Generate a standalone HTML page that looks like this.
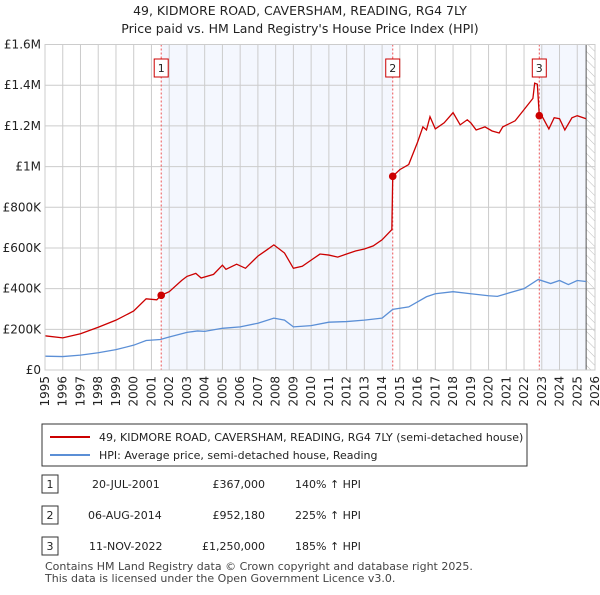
<!DOCTYPE html>
<html><head><meta charset="utf-8"><style>
body{margin:0;background:#fff;font-family:"Liberation Sans","DejaVu Sans",sans-serif;}
svg text{font-family:"DejaVu Sans","Liberation Sans",sans-serif;}
</style></head><body>
<svg id="c" width="600" height="590" xmlns="http://www.w3.org/2000/svg">
<defs><pattern id="hatch" width="6" height="6" patternUnits="userSpaceOnUse" patternTransform="rotate(-45)"><line x1="0" y1="0" x2="0" y2="6" stroke="#bbb" stroke-width="1"/></pattern></defs>
<text x="300" y="15" text-anchor="middle" font-size="12.5" fill="#222">49, KIDMORE ROAD, CAVERSHAM, READING, RG4 7LY</text>
<text x="300" y="33" text-anchor="middle" font-size="12.5" fill="#222">Price paid vs. HM Land Registry's House Price Index (HPI)</text>
<g id="plot"></g>
<g>
<rect x="42" y="424" width="485" height="42" fill="#fff" stroke="#333"/>
<line x1="50" y1="437" x2="90" y2="437" stroke="#cc0000" stroke-width="2"/>
<text x="99" y="441" font-size="11" fill="#222">49, KIDMORE ROAD, CAVERSHAM, READING, RG4 7LY (semi-detached house)</text>
<line x1="50" y1="455" x2="90" y2="455" stroke="#5b8fd6" stroke-width="2"/>
<text x="99" y="459" font-size="11" fill="#222">HPI: Average price, semi-detached house, Reading</text>
</g>
<g font-size="11" fill="#222">
<rect x="42" y="475" width="16" height="18" fill="#fff" stroke="#333"/><text x="50" y="488" text-anchor="middle">1</text>
<text x="92" y="488">20-JUL-2001</text><text x="265" y="488" text-anchor="end">£367,000</text><text x="295" y="488">140% ↑ HPI</text>
<rect x="42" y="506" width="16" height="18" fill="#fff" stroke="#333"/><text x="50" y="519" text-anchor="middle">2</text>
<text x="88" y="519">06-AUG-2014</text><text x="265" y="519" text-anchor="end">£952,180</text><text x="295" y="519">225% ↑ HPI</text>
<rect x="42" y="537" width="16" height="18" fill="#fff" stroke="#333"/><text x="50" y="550" text-anchor="middle">3</text>
<text x="89" y="550">11-NOV-2022</text><text x="265" y="550" text-anchor="end">£1,250,000</text><text x="295" y="550">185% ↑ HPI</text>
</g>
<text x="45" y="570" font-size="11" fill="#444">Contains HM Land Registry data © Crown copyright and database right 2025.</text>
<text x="45" y="582" font-size="11" fill="#444">This data is licensed under the Open Government Licence v3.0.</text>
</svg>
<script>
const yTicks=[0,200,400,600,800,1000,1200,1400,1600];
const yTickLabels=["£0","£200K","£400K","£600K","£800K","£1M","£1.2M","£1.4M","£1.6M"];
const years=[1995,1996,1997,1998,1999,2000,2001,2002,2003,2004,2005,2006,2007,2008,2009,2010,2011,2012,2013,2014,2015,2016,2017,2018,2019,2020,2021,2022,2023,2024,2025,2026];
const hpiX=[1995,1996,1997,1998,1999,2000,2000.7,2001.5,2002,2003,2003.6,2004,2005,2006,2007,2007.9,2008.5,2009,2010,2011,2012,2013,2014,2014.6,2015.5,2016.5,2017,2018,2019,2020,2020.5,2021,2022,2022.8,2023.5,2024,2024.5,2025,2025.5];
const hpiY=[68,66,73,85,100,122,145,150,162,185,192,190,205,212,230,255,245,212,218,235,238,245,255,298,310,360,375,385,375,365,362,375,400,445,425,440,420,440,435];
const ppX=[1995,1996,1997,1998,1999,2000,2000.7,2001.3,2001.55,2002,2002.7,2003,2003.5,2003.8,2004.5,2005,2005.2,2005.8,2006.3,2007,2007.5,2007.9,2008.5,2009,2009.5,2010,2010.5,2011,2011.5,2012,2012.5,2013,2013.5,2014,2014.55,2014.6,2015,2015.5,2016,2016.3,2016.5,2016.7,2017,2017.5,2018,2018.4,2018.8,2019,2019.3,2019.8,2020.2,2020.6,2020.8,2021.5,2022,2022.5,2022.6,2022.75,2022.86,2023,2023.4,2023.7,2024,2024.3,2024.7,2025,2025.5];
const ppY=[168,158,178,210,245,290,350,345,367,385,440,460,475,452,470,515,495,520,500,560,590,615,575,500,510,540,570,565,555,570,585,595,610,640,690,952,985,1010,1120,1195,1180,1245,1185,1215,1265,1205,1230,1215,1180,1195,1175,1165,1195,1225,1280,1335,1410,1405,1250,1250,1185,1240,1235,1180,1240,1250,1235];
const saleX=[2001.55,2014.6,2022.86];
const saleY=[367,952,1250];
const saleLabels=["1","2","3"];
const X0=45,X1=595,Y0=370,Y1=44.5;
const xs=v=>X0+(v-1995)/(2026-1995)*(X1-X0);
const ys=v=>Y0-(v/1600)*(Y0-Y1);
const g=document.getElementById('plot');const NS="http://www.w3.org/2000/svg";
function mk(t,a){const e=document.createElementNS(NS,t);for(const k in a)e.setAttribute(k,a[k]);g.appendChild(e);return e;}
let r=mk('rect',{x:xs(saleX[0]),y:Y1,width:xs(saleX[1])-xs(saleX[0]),height:Y0-Y1,fill:'#f4f7fe'});


r=mk('rect',{x:xs(saleX[2]),y:Y1,width:xs(2025.5)-xs(saleX[2]),height:Y0-Y1,fill:'#f4f7fe'});


r=mk('rect',{x:xs(2025.5),y:Y1,width:X1-xs(2025.5),height:Y0-Y1,fill:'url(#hatch)'});


yTicks.forEach((v,i)=>{const l=mk('line',{x1:X0,x2:X1,y1:ys(v),y2:ys(v),stroke:'#ccc'});


const t=mk('text',{x:X0-4,y:ys(v)+4,'text-anchor':'end','font-size':'12',fill:'#222'});t.textContent=yTickLabels[i];

});
years.forEach(y=>{const l=mk('line',{x1:xs(y),x2:xs(y),y1:Y1,y2:Y0,stroke:'#ccc'});


const t=mk('text',{x:0,y:0,'text-anchor':'end','font-size':'12',fill:'#222',transform:`translate(${xs(y)+4},${Y0+6}) rotate(-90)`});t.textContent=y;

});
const b=mk('line',{x1:xs(2025.5),x2:xs(2025.5),y1:Y1,y2:Y0,stroke:'#555'});


saleX.forEach((x,i)=>{const l=mk('line',{x1:xs(x),x2:xs(x),y1:Y1,y2:Y0,stroke:'#e55','stroke-dasharray':'2,2'});


const bx=mk('rect',{x:xs(x)-7,y:59,width:14,height:18,fill:'#fff',stroke:'#cc0000'});


const t=mk('text',{x:xs(x),y:72,'text-anchor':'middle','font-size':'11',fill:'#222'});t.textContent=saleLabels[i];

});
const hp=mk('polyline',{points:hpiX.map((x,i)=>xs(x)+','+ys(hpiY[i])).join(' '),fill:'none',stroke:'#5b8fd6','stroke-width':1.3});


const pp=mk('polyline',{points:ppX.map((x,i)=>xs(x)+','+ys(ppY[i])).join(' '),fill:'none',stroke:'#cc0000','stroke-width':1.3});


saleX.forEach((x,i)=>{const c=mk('circle',{cx:xs(x),cy:ys(saleY[i]),r:3.8,fill:'#cc0000'});

});
const a=mk('rect',{x:X0,y:Y1,width:X1-X0,height:Y0-Y1,fill:'none',stroke:'#ccc'});


</script>
</body></html>
